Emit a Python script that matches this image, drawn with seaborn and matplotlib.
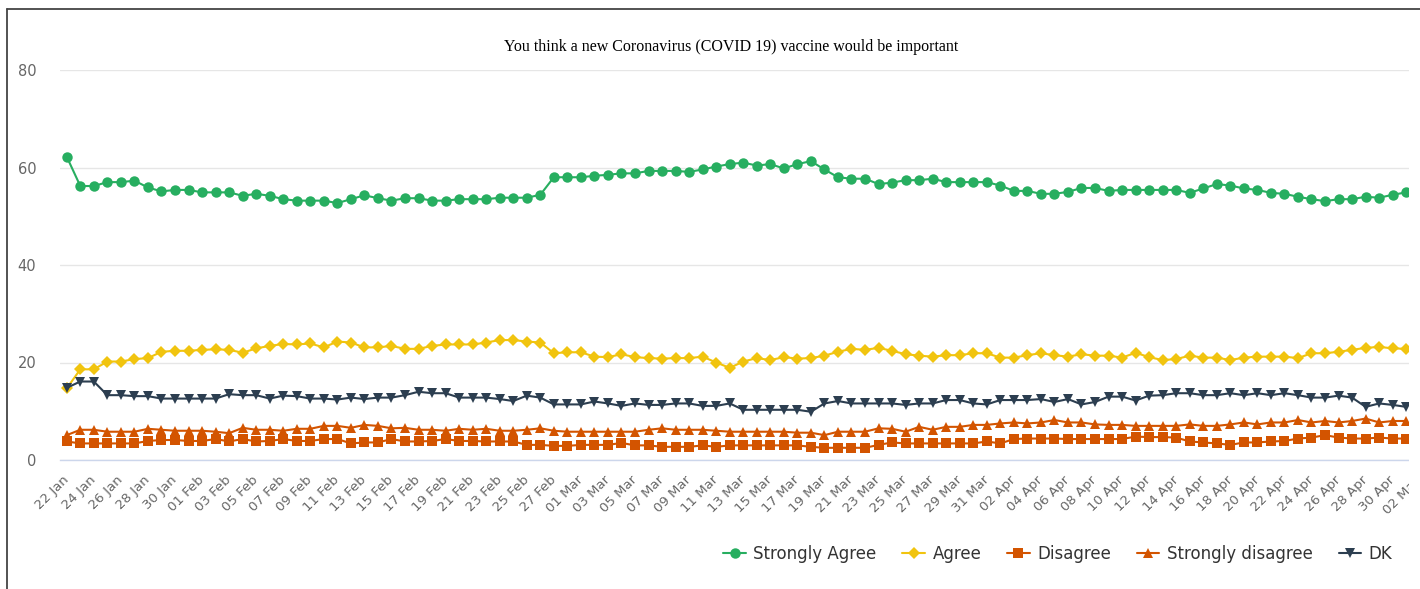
import numpy as np
import pandas as pd
import seaborn as sns
import matplotlib.pyplot as plt
from matplotlib.lines import Line2D
from matplotlib.patches import Rectangle

# Daily survey shares (%), 22 Jan -> 01 May 2021
strongly_agree = [62.2, 56.2, 56.2, 57.0, 57.0, 57.3, 55.9, 55.1, 55.4, 55.4,
                  54.9, 54.9, 54.9, 54.2, 54.6, 54.2, 53.5, 53.2, 53.2, 53.2,
                  52.7, 53.5, 54.3, 53.7, 53.2, 53.7, 53.7, 53.2, 53.2, 53.5,
                  53.5, 53.5, 53.8, 53.8, 53.8, 54.4, 58.0, 58.0, 58.0, 58.3,
                  58.5, 58.8, 58.8, 59.3, 59.3, 59.3, 59.1, 59.6, 60.2, 60.7,
                  61.0, 60.4, 60.7, 59.8, 60.7, 61.3, 59.6, 58.0, 57.7, 57.7,
                  56.6, 56.9, 57.4, 57.4, 57.7, 57.0, 57.0, 57.0, 57.0, 56.3,
                  55.2, 55.2, 54.6, 54.6, 55.0, 55.8, 55.8, 55.2, 55.4, 55.4,
                  55.4, 55.4, 55.4, 54.8, 55.7, 56.6, 56.3, 55.7, 55.4, 54.8,
                  54.6, 54.0, 53.5, 53.1, 53.5, 53.5, 54.0, 53.8, 54.4, 54.9]
agree = [14.7, 18.6, 18.6, 20.2, 20.2, 20.7, 20.9, 22.2, 22.4, 22.4,
         22.6, 22.7, 22.6, 22.0, 22.9, 23.4, 23.8, 23.7, 23.9, 23.1,
         24.3, 24.1, 23.1, 23.1, 23.4, 22.8, 22.8, 23.4, 23.7, 23.7,
         23.7, 24.1, 24.6, 24.6, 24.3, 24.1, 21.9, 22.1, 22.1, 21.2,
         21.1, 21.7, 21.1, 20.9, 20.8, 20.9, 20.9, 21.2, 20.0, 18.9,
         20.2, 20.9, 20.5, 21.1, 20.8, 20.9, 21.4, 22.2, 22.8, 22.6,
         23.0, 22.4, 21.7, 21.4, 21.2, 21.5, 21.5, 21.9, 21.9, 21.0,
         21.0, 21.5, 21.9, 21.5, 21.2, 21.7, 21.4, 21.4, 21.0, 22.0,
         21.1, 20.5, 20.7, 21.4, 21.0, 21.0, 20.5, 21.0, 21.2, 21.2,
         21.2, 20.9, 21.9, 21.9, 22.2, 22.6, 23.0, 23.2, 22.9, 22.8]
disagree = [3.8, 3.4, 3.4, 3.4, 3.4, 3.4, 3.9, 4.1, 4.1, 3.9,
            3.9, 4.3, 3.8, 4.3, 3.8, 3.9, 4.3, 3.9, 3.9, 4.3,
            4.3, 3.4, 3.6, 3.6, 4.3, 3.8, 3.8, 3.9, 4.3, 3.9,
            3.9, 3.8, 3.8, 3.8, 3.1, 3.1, 2.9, 2.9, 3.1, 3.1,
            3.1, 3.5, 3.0, 3.0, 2.7, 2.7, 2.7, 3.0, 2.7, 3.0,
            3.0, 3.0, 3.0, 3.0, 3.0, 2.7, 2.5, 2.5, 2.5, 2.5,
            3.1, 3.6, 3.4, 3.4, 3.4, 3.4, 3.4, 3.4, 3.8, 3.4,
            4.3, 4.4, 4.4, 4.4, 4.3, 4.3, 4.3, 4.3, 4.3, 4.8,
            4.7, 4.7, 4.6, 3.8, 3.6, 3.4, 3.1, 3.6, 3.6, 3.8,
            3.9, 4.4, 4.6, 5.1, 4.6, 4.4, 4.4, 4.6, 4.4, 4.4]
strongly_disagree = [5.1, 6.2, 6.2, 5.8, 5.8, 5.8, 6.4, 6.2, 6.0, 6.0,
                     6.0, 5.8, 5.5, 6.6, 6.2, 6.2, 6.0, 6.4, 6.4, 7.0,
                     7.0, 6.6, 7.2, 7.0, 6.5, 6.6, 6.2, 6.2, 6.0, 6.4,
                     6.2, 6.4, 6.0, 6.0, 6.2, 6.5, 6.0, 5.8, 5.8, 5.8,
                     5.8, 5.8, 5.8, 6.2, 6.5, 6.2, 6.2, 6.2, 6.0, 5.8,
                     5.8, 5.8, 5.8, 5.8, 5.6, 5.6, 5.1, 5.8, 5.8, 5.8,
                     6.5, 6.4, 5.8, 6.8, 6.2, 6.8, 6.8, 7.2, 7.2, 7.5,
                     7.7, 7.5, 7.7, 8.2, 7.7, 7.7, 7.3, 7.2, 7.2, 7.0,
                     7.0, 7.0, 7.0, 7.3, 7.0, 7.0, 7.3, 7.7, 7.3, 7.7,
                     7.7, 8.2, 7.7, 8.0, 7.7, 8.0, 8.5, 7.7, 8.0, 8.0]
dk = [14.8, 16.1, 16.1, 13.3, 13.3, 13.1, 13.1, 12.6, 12.6, 12.6,
      12.6, 12.6, 13.5, 13.3, 13.3, 12.6, 13.2, 13.1, 12.6, 12.6,
      12.4, 12.8, 12.5, 12.8, 12.8, 13.3, 14.0, 13.7, 13.7, 12.8,
      12.8, 12.8, 12.5, 12.1, 13.2, 12.8, 11.4, 11.4, 11.4, 12.0,
      11.6, 11.1, 11.6, 11.3, 11.3, 11.6, 11.6, 11.1, 11.1, 11.6,
      10.3, 10.3, 10.3, 10.3, 10.3, 9.9, 11.6, 12.1, 11.6, 11.6,
      11.6, 11.6, 11.3, 11.6, 11.6, 12.3, 12.3, 11.6, 11.4, 12.3,
      12.3, 12.3, 12.5, 11.9, 12.5, 11.4, 11.9, 13.0, 13.0, 12.2,
      13.2, 13.3, 13.7, 13.7, 13.3, 13.3, 13.7, 13.3, 13.7, 13.3,
      13.7, 13.3, 12.8, 12.8, 13.2, 12.8, 10.9, 11.6, 11.3, 10.9]

series_names = ["Strongly Agree", "Agree", "Disagree", "Strongly disagree", "DK"]
series_values = [strongly_agree, agree, disagree, strongly_disagree, dk]
colors = ["#27ae60", "#f1c40f", "#d35400", "#d35400", "#2c3e50"]
markers = ["o", "D", "s", "^", "v"]
marker_sizes = [7.5, 6.0, 7.0, 7.5, 7.5]

start = pd.Timestamp("2021-01-22")
tick_days = list(range(0, 101, 2))
tick_labels = [(start + pd.Timedelta(days=d)).strftime("%d %b") for d in tick_days]
title = "You think a new Coronavirus (COVID 19) vaccine would be important"

W, H = 1420, 589
sns.set_theme(style="white")
plt.rcParams["font.family"] = ["DejaVu Sans"]

fig = plt.figure(figsize=(W / 100, H / 100), dpi=100)
# plot area runs past the visible right edge (the chart is cropped there)
ax = fig.add_axes([60 / W, (H - 460) / H, 1366.5 / W, 390 / H])

days = np.arange(len(strongly_agree))
for name, vals, c, m, ms in zip(series_names, series_values, colors, markers, marker_sizes):
    sns.lineplot(x=days, y=vals, ax=ax, color=c, marker=m, markersize=ms,
                 markeredgewidth=0, linewidth=1.5, label=name)

ax.set_xlim(-0.5, 100.5)
ax.set_ylim(0, 80)
ax.set_yticks([0, 20, 40, 60, 80])
ax.set_xticks(tick_days)
ax.set_xticklabels(tick_labels, rotation=45, ha="right", va="center",
                   rotation_mode="anchor", color="#666666", fontsize=9.5)
ax.tick_params(axis="x", length=0, pad=13)
ax.tick_params(axis="y", length=0, pad=17, labelcolor="#666666", labelsize=10.5)
ax.set_xlabel("")
ax.set_ylabel("")
ax.grid(axis="y", color="#e6e6e6", linewidth=1)
for s in ["left", "right", "top"]:
    ax.spines[s].set_visible(False)
ax.spines["bottom"].set_color("#ccd6eb")
ax.spines["bottom"].set_linewidth(1)

handles = [Line2D([0], [0], color=c, marker=m, markersize=ms, markeredgewidth=0, linewidth=1.5)
           for c, m, ms in zip(colors, markers, marker_sizes)]
ax.get_legend().remove()
fig.legend(handles, series_names, loc="center left", bbox_to_anchor=(715 / W, 1 - 554 / H),
           ncol=5, frameon=False, fontsize=12, handlelength=1.35, handletextpad=0.45,
           columnspacing=1.55, borderpad=0, labelcolor="#333333")

fig.text(731 / W, 1 - 47 / H, title, ha="center", va="center",
         family="Liberation Serif", fontsize=11.5, color="#000000")

# chart container is cut off on the right
fig.patches.append(Rectangle((1409 / W, 0), 1, (H - 10) / H, transform=fig.transFigure,
                             facecolor="white", edgecolor="none", zorder=10))
fig.lines.append(Line2D([6.5 / W, 6.5 / W], [0, 1 - 9 / H], transform=fig.transFigure,
                        color="#444444", linewidth=1.3, zorder=11))
fig.lines.append(Line2D([6.5 / W, 1], [1 - 9 / H, 1 - 9 / H], transform=fig.transFigure,
                        color="#444444", linewidth=1.3, zorder=11))

fig.savefig("out.png", dpi=100)
